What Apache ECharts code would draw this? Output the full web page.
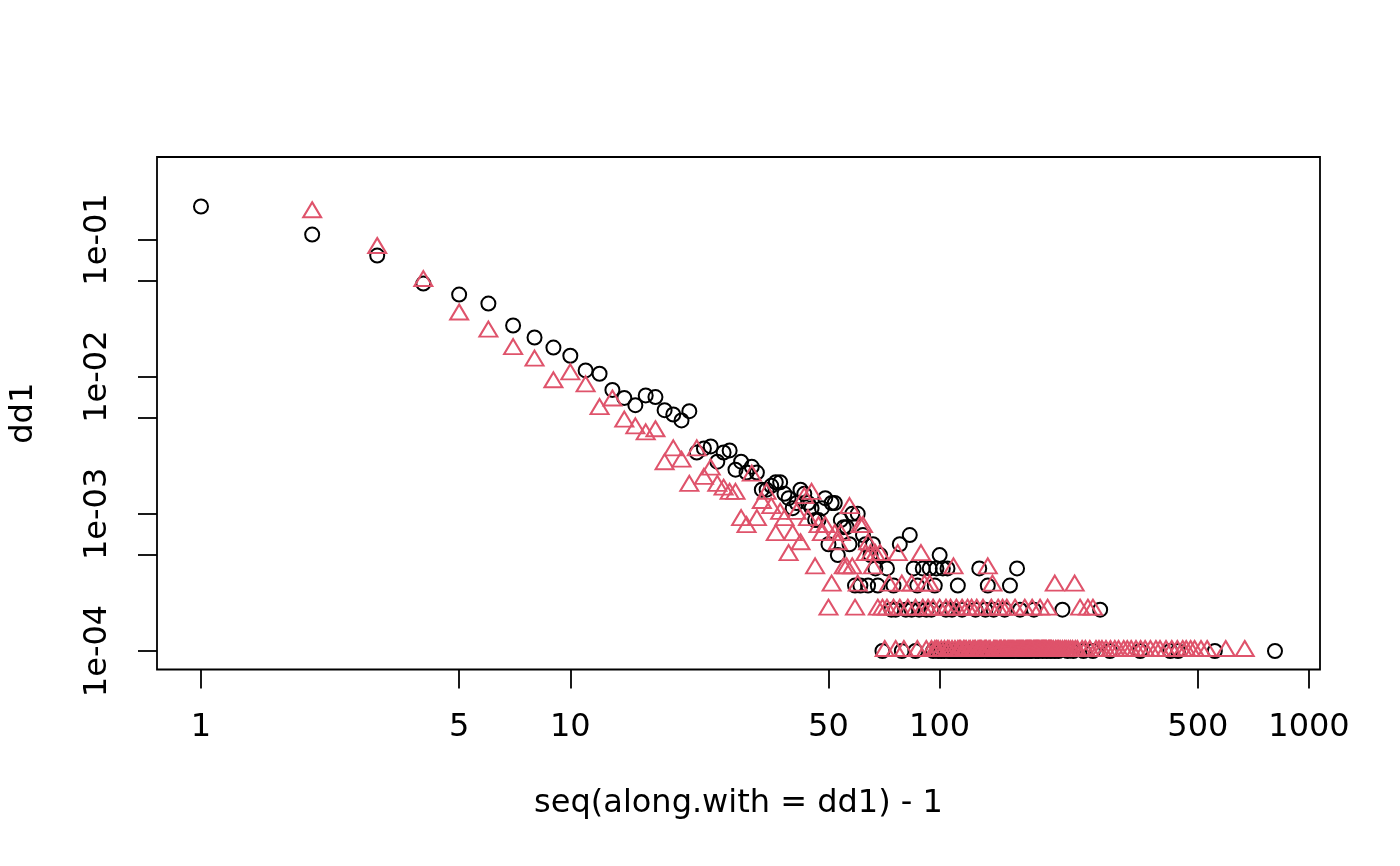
<!DOCTYPE html>
<html>
<head>
<meta charset="utf-8">
<script src="https://cdn.jsdelivr.net/npm/echarts@6/dist/echarts.min.js"></script>
<style>
  html, body { margin: 0; padding: 0; background: #fff; }
  #chart { width: 1400px; height: 866px; }
</style>
</head>
<body>
<div id="chart"></div>
<script>
// number of nodes, counts below are read as count / N
var N = 10000;

// black circles: low degrees, one count per degree
var blackHeadDeg = [1, 2, 3, 4, 5, 6, 7, 8, 9, 10, 11, 12, 13, 14, 15, 16, 17, 18, 19, 20,
  21, 22, 23, 24, 25, 26, 27, 28, 29, 30, 31, 32, 33, 34, 35, 36, 37, 38, 39, 40,
  41, 42, 43, 44, 45, 46, 47, 48, 49, 50, 51, 52, 53, 54, 55, 56, 57, 58, 59, 60,
  61, 62, 63, 64, 65, 66, 67, 68, 69];
var blackHeadCount = [1741, 1087, 764, 477, 397, 341, 236, 193, 163, 142, 111, 105, 80, 70, 62, 73, 71, 57, 53, 48,
  56, 28, 30, 31, 24, 28, 29, 21, 24, 20, 22, 20, 15, 15, 16, 17, 17, 14, 13, 11,
  12, 15, 14, 12, 11, 9, 9, 11, 13, 6, 12, 12, 5, 9, 8, 8, 6, 10, 3, 10,
  3, 7, 6, 3, 5, 6, 4, 3, 5];
// black circles: high degrees grouped by count
var blackDeg7 = [83];
var blackDeg6 = [78];
var blackDeg5 = [100];
var blackDeg4 = [72, 85, 90, 94, 98, 102, 105, 128, 162];
var blackDeg3 = [75, 87, 97, 112, 135, 155];
var blackDeg2 = [74, 76, 81, 84, 88, 92, 95, 104, 108, 115, 125, 133, 140, 150, 165, 180, 215, 272];
var blackDeg1 = [70, 79, 86, 96, 99, 101, 103, 106, 107, 109, 110, 111, 113, 114, 116, 117, 118, 119, 120,
  121, 122, 123, 124, 126, 127, 129, 131, 134, 136, 137, 138, 139, 141, 142, 143, 145, 146, 148, 149,
  151, 152, 153, 154, 156, 157, 159, 163, 164, 166, 168, 170, 172, 175, 177, 182, 185, 190, 195, 200,
  205, 210, 222, 230, 245, 260, 289, 349, 421, 442, 556, 809];

// red triangles: low degrees
var redHeadDeg = [2, 3, 4, 5, 6, 7, 8, 9, 10, 11, 12, 13, 14, 15, 16, 17, 18, 19, 20,
  21, 22, 23, 24, 25, 26, 27, 28, 29, 30, 31, 32, 33, 34, 35, 36, 37, 38, 39, 40,
  41, 42, 43, 44, 45, 46, 47, 48, 49, 50, 51, 52, 53, 54, 55, 56, 57, 58, 59, 60,
  61, 62, 63, 64, 65, 66, 67, 68, 69, 70];
var redHeadCount = [1580, 867, 498, 284, 213, 159, 131, 91, 104, 85, 58, 67, 47, 42, 38, 40, 23, 29, 24,
  16, 29, 18, 21, 16, 15, 14, 14, 9, 8, 19, 9, 12, 14, 11, 7, 10, 9, 5, 7,
  10, 6, 13, 9, 14, 4, 8, 7, 8, 2, 3, 7, 6, 7, 4, 4, 11, 4, 2, 3,
  8, 8, 5, 6, 5, 4, 5, 2, 5, 2];
// red triangles: high degrees grouped by count
var redDeg5 = [77, 89];
var redDeg4 = [109, 135];
var redDeg3 = [73, 79, 84, 91, 94, 139, 205, 232];
var redDeg2 = [72, 75, 78, 82, 86, 90, 93, 96, 100, 104, 107, 111, 115, 119, 122, 126, 131, 138,
  144, 148, 152, 160, 170, 178, 187, 196, 240, 252, 260];
var redDeg1 = [71, 76, 80, 87, 92, 95, 97, 98, 99, 101, 103, 105, 106, 108, 110, 112, 113, 114, 116,
  117, 118, 120, 121, 123, 124, 125, 127, 128, 129, 130, 132, 133, 134, 136, 137, 140, 141, 142, 143,
  145, 146, 147, 149, 150, 151, 153, 154, 155, 156, 157, 158, 159, 161, 162, 163, 164, 165, 166, 167,
  168, 169, 171, 172, 173, 174, 175, 176, 177, 179, 180, 181, 182, 183, 184, 185, 186, 188, 189, 190,
  191, 192, 193, 194, 195, 197, 198, 199, 200, 201, 203, 206, 208, 210, 212, 215, 218, 220, 223, 226,
  229, 233, 236, 243, 248, 255, 265, 270, 275, 282, 290, 298, 305, 315, 322, 330, 340, 350, 360, 372,
  385, 395, 410, 425, 440, 455, 465, 478, 490, 510, 530, 595, 670];

// axis ticks
var xTicks = [1, 5, 10, 50, 100, 500, 1000];
var yTicks = [1e-1, 5e-2, 1e-2, 5e-3, 1e-3, 5e-4, 1e-4];
var yLabels = [1e-1, 1e-2, 1e-3, 1e-4];

function lg(v) { return Math.log10(v); }

// points on log-log, [log10(degree), log10(count / N)]
function headPoints(deg, count) {
  return deg.map(function (d, i) { return [lg(d), lg(count[i] / N)]; });
}
function levelPoints(deg, count) {
  return deg.map(function (d) { return [lg(d), lg(count / N)]; });
}

var blackData = headPoints(blackHeadDeg, blackHeadCount)
  .concat(levelPoints(blackDeg7, 7), levelPoints(blackDeg6, 6), levelPoints(blackDeg5, 5),
    levelPoints(blackDeg4, 4), levelPoints(blackDeg3, 3), levelPoints(blackDeg2, 2),
    levelPoints(blackDeg1, 1));
var redData = headPoints(redHeadDeg, redHeadCount)
  .concat(levelPoints(redDeg5, 5), levelPoints(redDeg4, 4), levelPoints(redDeg3, 3),
    levelPoints(redDeg2, 2), levelPoints(redDeg1, 1));

var font = 'DejaVu Sans';
var chart = echarts.init(document.getElementById('chart'));
var option = {
  animation: false,
  backgroundColor: '#fff',
  grid: {
    left: 157, right: 80, top: 157, bottom: 196.5,
    show: true, borderColor: '#000', borderWidth: 1.8,
    containLabel: false
  },
  xAxis: {
    type: 'value',
    min: -0.1191, max: 3.0298,
    name: 'seq(along.with = dd1) - 1',
    nameLocation: 'middle',
    nameGap: 118,
    nameTextStyle: { fontFamily: font, fontSize: 32, color: '#000' },
    axisLine: { show: false, onZero: false },
    splitLine: { show: false },
    axisTick: {
      show: true, length: 19, inside: false,
      customValues: xTicks.map(lg),
      lineStyle: { color: '#000', width: 1.8 }
    },
    axisLabel: {
      customValues: xTicks.map(lg),
      margin: 42,
      fontFamily: font, fontSize: 32, color: '#000',
      formatter: function (v) { return String(Math.round(Math.pow(10, v))); }
    }
  },
  yAxis: {
    type: 'value',
    min: -4.1349, max: -0.3985,
    name: 'dd1',
    nameLocation: 'middle',
    nameGap: 117,
    nameRotate: 90,
    nameTextStyle: { fontFamily: font, fontSize: 32, color: '#000' },
    axisLine: { show: false, onZero: false },
    splitLine: { show: false },
    axisTick: {
      show: true, length: 19, inside: false,
      customValues: yTicks.map(lg),
      lineStyle: { color: '#000', width: 1.8 }
    },
    axisLabel: {
      customValues: yLabels.map(lg),
      rotate: 90,
      margin: 43,
      fontFamily: font, fontSize: 32, color: '#000',
      formatter: function (v) {
        var e = -Math.round(v);
        return '1e-' + (e < 10 ? '0' : '') + e;
      }
    }
  },
  series: [
    {
      name: 'black',
      type: 'scatter',
      data: blackData,
      symbol: 'circle',
      symbolSize: 14,
      itemStyle: { color: 'rgba(0,0,0,0)', borderColor: '#000', borderWidth: 2, opacity: 1 }
    },
    {
      name: 'red',
      type: 'scatter',
      data: redData,
      symbol: 'triangle',
      symbolSize: [18, 15],
      symbolOffset: [0, -2.5],
      itemStyle: { color: 'rgba(0,0,0,0)', borderColor: '#DF536B', borderWidth: 2, opacity: 1 }
    }
  ]
};
chart.setOption(option);
window.addEventListener('resize', function () { chart.resize(); });
</script>
</body>
</html>
